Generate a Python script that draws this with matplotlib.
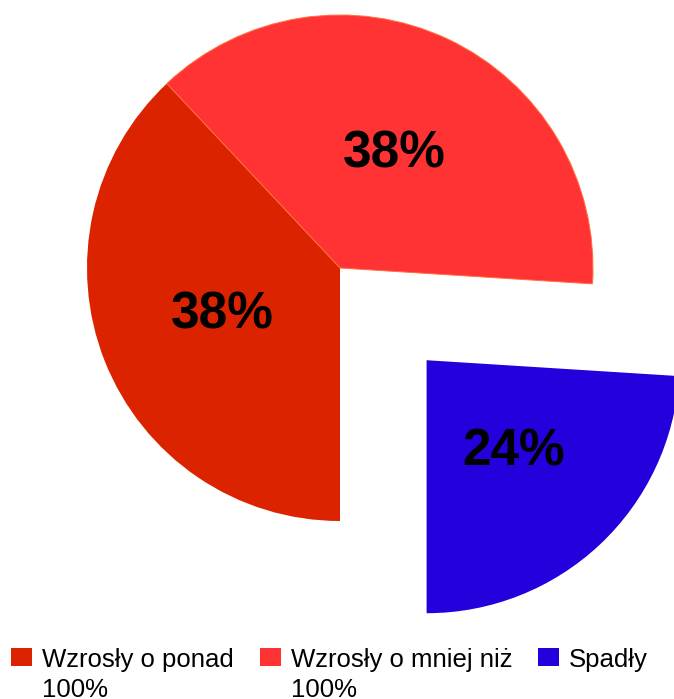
import matplotlib
matplotlib.use("Agg")
import matplotlib.pyplot as plt
from matplotlib.patches import Rectangle
from matplotlib.legend_handler import HandlerPatch

plt.rcParams['font.family'] = ['Liberation Sans', 'DejaVu Sans']

categories = ["Wzrosły o ponad\n100%", "Wzrosły o mniej niż\n100%", "Spadły"]
values = [38, 38, 24]
colors = ["#DC2300", "#FF3333", "#2300DC"]
explode_frac = [0, 0, 0.5]

W, H = 674, 699
fig = plt.figure(figsize=(W / 100, H / 100), dpi=100)
ax = fig.add_axes([0, 0, 1, 1])

R = 253
cx, cy = 340, H - 268
wedges, texts, autotexts = ax.pie(
    values, colors=colors, explode=[e * R for e in explode_frac],
    startangle=-90, counterclock=False, radius=R, center=(cx, cy),
    autopct='%.0f%%', pctdistance=0.5,
    wedgeprops=dict(linewidth=0),
    textprops=dict(fontsize=37, fontweight='bold', color='black'))
wedges[1].set_edgecolor('#FF7040')
wedges[1].set_linewidth(0.7)

ax.set_xlim(0, W)
ax.set_ylim(0, H)
ax.set_aspect('equal')
ax.axis('off')

fs = 18.5
LS = 1.33


def square(legend, orig_handle, xdescent, ydescent, width, height, fontsize):
    return Rectangle((-xdescent, -ydescent + 0.72 * fontsize), width, height)


# every legend entry laid out as two lines, like the reference
legend_labels = [c if "\n" in c else c + "\n" for c in categories]
handles = [Rectangle((0, 0), 1, 1, facecolor=c, edgecolor='none') for c in colors]
leg = fig.legend(handles, legend_labels, loc='upper left',
                 bbox_to_anchor=(11 / W, 1 - 648 / H), ncol=3, frameon=False,
                 fontsize=fs, handlelength=0.82, handleheight=0.70,
                 handletextpad=0.39, columnspacing=1.0, borderpad=0,
                 borderaxespad=0, labelspacing=0,
                 handler_map={Rectangle: HandlerPatch(patch_func=square)})
for t in leg.get_texts():
    t.set_linespacing(LS)

fig.savefig("out.png", dpi=100)
